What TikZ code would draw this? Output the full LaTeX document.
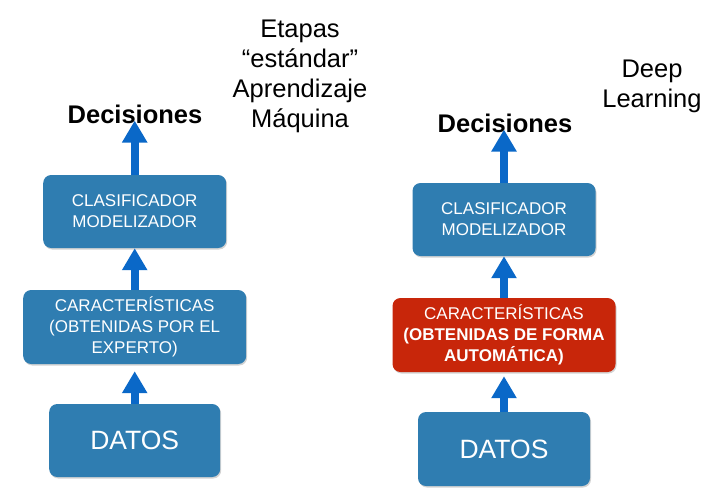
\documentclass[tikz,border=0pt]{standalone}
\usepackage{fontspec}
\setmainfont{Liberation Sans}
\usetikzlibrary{arrows.meta,shadows}
\definecolor{boxblue}{RGB}{47,125,177}
\definecolor{boxred}{RGB}{200,38,10}
\definecolor{arrblue}{RGB}{10,104,200}
\tikzset{
  stagebox/.style={draw=none, fill=boxblue, rounded corners=8pt, text=white, align=center,
    font=\fontsize{17}{21}\selectfont, inner sep=0pt,
    drop shadow={opacity=0.35, shadow xshift=1pt, shadow yshift=-1.5pt}},
  redbox/.style={stagebox, fill=boxred},
  datbox/.style={stagebox, font=\fontsize{26.5}{30}\selectfont},
  dectext/.style={font=\bfseries\fontsize{25.5}{30}\selectfont, inner sep=0pt},
  titletext/.style={font=\fontsize{25.5}{30}\selectfont, align=center, inner sep=0pt},
  uparrow/.style={draw=arrblue, line width=8pt, -{Triangle[width=24pt,length=22pt]}},
}
\begin{document}
\begin{tikzpicture}[x=1pt,y=-1pt]
\useasboundingbox (0,0) rectangle (725,496);
% left column
\node[stagebox, minimum width=183pt, minimum height=73pt] (clf1) at (134.7,211.5) {CLASIFICADOR\\MODELIZADOR};
\node[stagebox, minimum width=223pt, minimum height=74pt] (car1) at (134.7,327) {CARACTERÍSTICAS\\(OBTENIDAS POR EL\\EXPERTO)};
\node[datbox, minimum width=171pt, minimum height=73pt] (dat1) at (134.7,440.5) {DATOS};
\node[dectext] (dec1) at (135,114) {Decisiones};
% right column
\node[stagebox, minimum width=183pt, minimum height=73pt] (clf2) at (504,219.5) {CLASIFICADOR\\MODELIZADOR};
\node[redbox, minimum width=223pt, minimum height=74pt] (car2) at (504,335) {CARACTERÍSTICAS\\\textbf{(OBTENIDAS DE FORMA}\\\textbf{AUTOMÁTICA)}};
\node[datbox, minimum width=172pt, minimum height=74pt] (dat2) at (504,449) {DATOS};
\node[dectext] (dec2) at (505,123) {Decisiones};
% titles
\node[titletext] (t1) at (300,76) {Etapas\\“estándar”\\Aprendizaje\\Máquina};
\node[titletext] (t2) at (652,86.5) {Deep\\Learning};
% arrows
\draw[uparrow] (dat1.north) -- ([yshift=-7pt]car1.south);
\draw[uparrow] (car1.north) -- (clf1.south);
\draw[uparrow] (clf1.north) -- ([yshift=3pt]clf1.north |- dec1.south);
\draw[uparrow] (dat2.north) -- ([yshift=-4pt]car2.south);
\draw[uparrow] (car2.north) -- (clf2.south);
\draw[uparrow] (clf2.north) -- ([yshift=3pt]clf2.north |- dec2.south);
\end{tikzpicture}
\end{document}
